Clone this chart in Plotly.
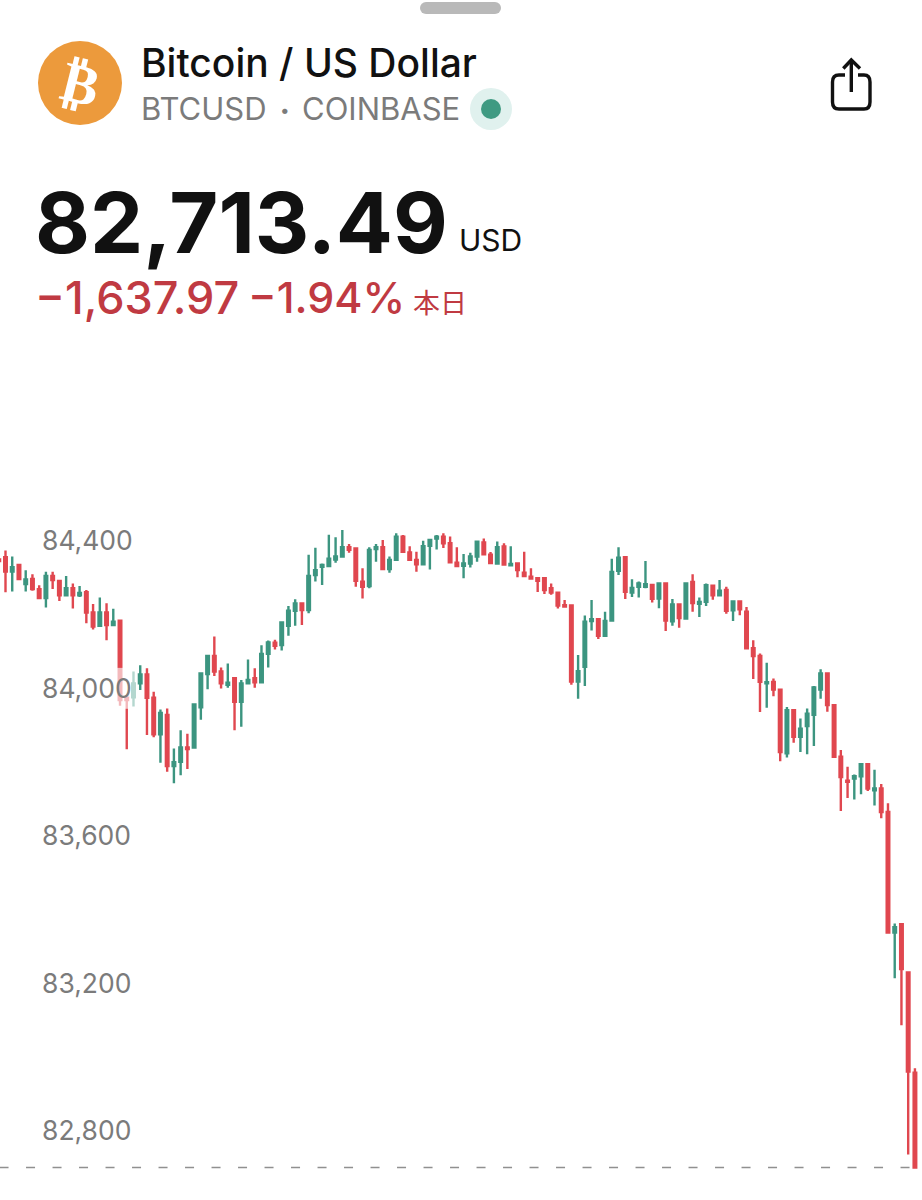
import plotly.graph_objects as go

WIDTH = 922
HEIGHT = 1200

# candles, one entry per bar
bar_index = list(range(-1, 136))
open_prices = [
    84350, 84356, 84317, 84335, 84283, 84297, 84269, 84245, 84305, 84292, 84253, 84272, 84253, 84261, 84206, 84170,
    84206, 84172, 84184, 83975, 83976, 84014, 84038, 83975, 83876, 83928, 83790, 83801, 83840, 83840, 83949, 84039,
    84088, 84046, 84010, 84028, 83964, 84014, 84028, 84017, 84094, 84124, 84118, 84170, 84211, 84231, 84213, 84308,
    84330, 84332, 84350, 84358, 84383, 84380, 84290, 84278, 84378, 84383, 84324, 84349, 84412, 84369, 84349, 84337,
    84387, 84407, 84412, 84394, 84341, 84333, 84339, 84358, 84396, 84363, 84339, 84385, 84334, 84339, 84314, 84303,
    84299, 84299, 84272, 84260, 84226, 84225, 84019, 84059, 84183, 84188, 84143, 84184, 84319, 84356, 84260, 84276,
    84276, 84281, 84244, 84285, 84182, 84228, 84190, 84289, 84230, 84235, 84279, 84253, 84267, 84212, 84236, 84208,
    84109, 84088, 84014, 84018, 83997, 83824, 83941, 83869, 83898, 83929, 83997, 84041, 83955, 83815, 83750, 83756,
    83762, 83795, 83724, 83729, 83665, 83338, 83361, 83230, 82958,
]
high_prices = [
    84353, 84374, 84358, 84335, 84321, 84310, 84280, 84317, 84317, 84292, 84305, 84285, 84278, 84267, 84229, 84247,
    84231, 84216, 84186, 83978, 84046, 84063, 84055, 83991, 83943, 83946, 83837, 83887, 83877, 83957, 84041, 84088,
    84141, 84057, 84068, 84028, 84023, 84079, 84055, 84117, 84130, 84132, 84180, 84224, 84242, 84231, 84363, 84382,
    84339, 84417, 84410, 84430, 84392, 84380, 84326, 84383, 84392, 84403, 84358, 84421, 84416, 84386, 84371, 84401,
    84403, 84416, 84421, 84412, 84383, 84365, 84368, 84399, 84407, 84370, 84399, 84394, 84386, 84339, 84371, 84326,
    84299, 84299, 84285, 84260, 84240, 84226, 84091, 84198, 84240, 84188, 84208, 84352, 84383, 84356, 84296, 84290,
    84346, 84281, 84285, 84285, 84243, 84228, 84285, 84310, 84247, 84285, 84279, 84294, 84276, 84236, 84238, 84221,
    84131, 84095, 84070, 84027, 83997, 83950, 83941, 83919, 83946, 84007, 84052, 84041, 83955, 83833, 83788, 83767,
    83795, 83795, 83780, 83741, 83689, 83363, 83363, 83230, 82970,
]
low_prices = [
    84346, 84261, 84263, 84297, 84263, 84265, 84245, 84220, 84270, 84237, 84253, 84217, 84248, 84177, 84160, 84170,
    84131, 84170, 83953, 83835, 83951, 83996, 83874, 83868, 83799, 83774, 83743, 83765, 83782, 83840, 83915, 83998,
    84034, 84000, 84002, 83887, 83896, 84014, 84002, 84017, 84057, 84106, 84103, 84143, 84170, 84172, 84204, 84290,
    84281, 84332, 84341, 84358, 84368, 84276, 84244, 84272, 84344, 84321, 84314, 84349, 84371, 84347, 84317, 84337,
    84323, 84377, 84381, 84342, 84330, 84299, 84328, 84344, 84364, 84340, 84339, 84336, 84334, 84302, 84305, 84298,
    84262, 84256, 84254, 84217, 84222, 84010, 83972, 84007, 84157, 84134, 84143, 84184, 84308, 84243, 84248, 84247,
    84272, 84233, 84218, 84156, 84170, 84165, 84190, 84208, 84194, 84224, 84241, 84253, 84203, 84183, 84199, 84108,
    84026, 83936, 83948, 83979, 83803, 83813, 83853, 83828, 83822, 83844, 83972, 83937, 83815, 83668, 83703, 83699,
    83713, 83722, 83683, 83648, 83338, 83214, 83087, 82736, 82699,
]
close_prices = [
    84346, 84317, 84329, 84297, 84296, 84270, 84245, 84305, 84294, 84253, 84272, 84253, 84259, 84206, 84168, 84206,
    84172, 84181, 83969, 83969, 84014, 84038, 83975, 83876, 83934, 83790, 83800, 83840, 83836, 83957, 84041, 84088,
    84046, 84014, 84016, 83964, 84014, 84023, 84017, 84094, 84125, 84116, 84179, 84211, 84231, 84213, 84305, 84321,
    84335, 84352, 84358, 84383, 84376, 84292, 84276, 84376, 84383, 84324, 84349, 84412, 84371, 84349, 84337, 84386,
    84403, 84412, 84394, 84342, 84332, 84339, 84358, 84398, 84364, 84340, 84383, 84336, 84338, 84321, 84305, 84298,
    84292, 84267, 84260, 84225, 84222, 84019, 84047, 84181, 84188, 84143, 84183, 84316, 84355, 84262, 84273, 84285,
    84283, 84243, 84285, 84184, 84228, 84191, 84285, 84232, 84235, 84280, 84253, 84265, 84211, 84236, 84215, 84109,
    84088, 84018, 84017, 83997, 83828, 83941, 83869, 83891, 83932, 84003, 84041, 83955, 83815, 83760, 83747, 83762,
    83795, 83729, 83729, 83665, 83338, 83353, 83239, 82961, 82701,
]

price_ticks = [84400, 84000, 83600, 83200, 82800]
tick_labels = ["84,400", "84,000", "83,600", "83,200", "82,800"]

RED = "#E0474F"
GREEN = "#3C9580"
GREY = "#7B7B7B"
TEXT_RED = "#C03A42"
BLACK = "#111111"


def px_x(x):
    return x / WIDTH


def px_y(y):
    return 1 - y / HEIGHT


def add_text(fig, text, x, y, size, color, family="Inter", weight=400, **kwargs):
    # annotations sit about 3px right of their anchor because of their padding
    anchor = kwargs.pop("xanchor", "left")
    fig.add_annotation(
        text=text, xref="paper", yref="paper", x=px_x(x - 3 if anchor == "left" else x), y=px_y(y),
        xanchor=anchor, yanchor="middle", showarrow=False,
        font=dict(family=family, size=size, color=color, weight=weight), **kwargs
    )


def add_circle(fig, cx, cy, r, color):
    fig.add_shape(
        type="circle", xref="paper", yref="paper", layer="above",
        x0=px_x(cx - r), x1=px_x(cx + r), y0=px_y(cy - r), y1=px_y(cy + r),
        fillcolor=color, line_width=0
    )


def add_path(fig, points, color, width):
    # points is an svg path where the numbers are screen pixels
    parts = []
    for cmd, coords in points:
        pairs = [f"{px_x(x):.5f},{px_y(y):.5f}" for x, y in coords]
        parts.append(cmd + " ".join(pairs))
    fig.add_shape(
        type="path", xref="paper", yref="paper", layer="above", path=" ".join(parts),
        line=dict(color=color, width=width)
    )


fig = go.Figure()

fig.add_trace(go.Candlestick(
    x=bar_index, open=open_prices, high=high_prices, low=low_prices, close=close_prices,
    increasing=dict(line=dict(color=GREEN, width=2.4), fillcolor=GREEN),
    decreasing=dict(line=dict(color=RED, width=2.4), fillcolor=RED),
    whiskerwidth=0, showlegend=False, hoverinfo="skip"
))

# translucent box behind the 84,000 label, it washes out the candles under it
fig.add_trace(go.Scatter(
    x=[16.4, 19.5, 19.5, 16.4, 16.4], y=[84056, 84056, 83945, 83945, 84056],
    mode="lines", fill="toself", fillcolor="rgba(255,255,255,0.62)",
    line=dict(width=0), showlegend=False, hoverinfo="skip"
))

# last price line
fig.add_shape(
    type="line", xref="paper", yref="y", x0=-0.0005, x1=1, y0=close_prices[-1], y1=close_prices[-1],
    layer="below", line=dict(color="#909090", width=1.5, dash="9px,17.5px")
)

# grab handle
fig.add_shape(
    type="rect", xref="paper", yref="paper", layer="above",
    x0=px_x(426), x1=px_x(495), y0=px_y(14), y1=px_y(2),
    fillcolor="#B9B9B9", line_width=0
)
add_circle(fig, 426, 8, 6, "#B9B9B9")
add_circle(fig, 495, 8, 6, "#B9B9B9")

# coin logo
add_circle(fig, 80, 83, 42, "#EC9A3C")
add_text(fig, "₿", 80, 83, 56, "#FFFFFF", family="DejaVu Sans", weight=700, xanchor="center", textangle=14)

# live dot
add_circle(fig, 491, 109, 21, "#E0F1EE")
add_circle(fig, 491, 109, 10, "#3F9A82")

# share icon
add_path(fig, [("M", [(845, 75)]), ("L", [(839, 75)]), ("Q", [(832.5, 75), (832.5, 82)]), ("L", [(832.5, 102)]),
               ("Q", [(832.5, 109), (839, 109)]), ("L", [(864, 109)]), ("Q", [(870, 109), (870, 102)]),
               ("L", [(870, 82)]), ("Q", [(870, 75), (864, 75)]), ("L", [(858, 75)])], BLACK, 3.4)
add_path(fig, [("M", [(851.3, 92)]), ("L", [(851.3, 60)])], BLACK, 3.4)
add_path(fig, [("M", [(843.3, 68.5)]), ("L", [(851.3, 60)]), ("L", [(860, 68.5)])], BLACK, 3.4)

# header texts
add_text(fig, "Bitcoin / US Dollar", 142, 63, 39, BLACK, weight=500)
add_text(fig, "BTCUSD", 142, 109, 31, GREY)
add_text(fig, "•", 281, 110, 17, GREY)
add_text(fig, "COINBASE", 303, 109, 31, GREY)
add_text(fig, "82,713.49", 36, 222, 84.5, BLACK, weight=700)
add_text(fig, "USD", 460, 240, 30, BLACK)
add_text(fig, "−1,637.97", 36, 297, 45, TEXT_RED, weight=500)
add_text(fig, "−1.94%", 249, 297, 43, TEXT_RED, weight=500)
add_text(fig, "本日", 414, 301, 27, TEXT_RED, family="Noto Sans CJK JP")

fig.update_layout(
    width=WIDTH, height=HEIGHT, margin=dict(l=0, r=0, t=0, b=0),
    paper_bgcolor="white", plot_bgcolor="white", showlegend=False, boxgap=0.45,
    xaxis=dict(range=[-0.816, 136.05], visible=False, rangeslider=dict(visible=False)),
    yaxis=dict(
        range=[82612.9, 85867.2], tickvals=price_ticks, ticktext=tick_labels, showgrid=False, zeroline=False,
        showline=False, ticks="", ticklabelposition="inside", ticklabelstandoff=39,
        tickfont=dict(family="Inter", size=26.5, color=GREY)
    ),
)

fig.write_html(
    "out.html", config={"displayModeBar": False},
    post_script="document.body.style.margin='0';document.documentElement.style.overflow='hidden';"
)
